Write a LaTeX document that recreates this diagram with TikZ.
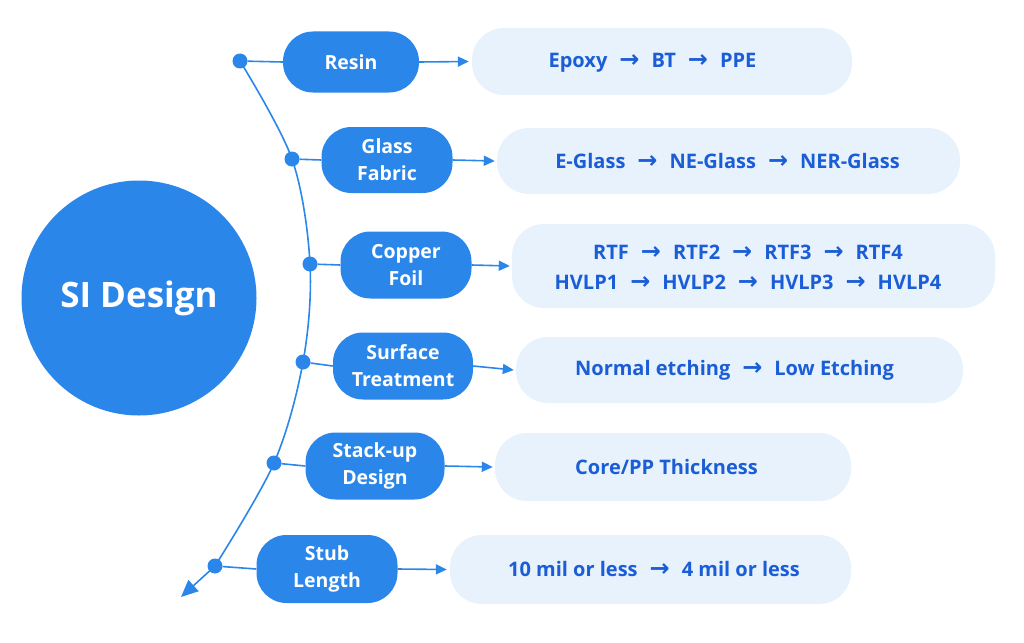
\documentclass[tikz,border=0pt]{standalone}
\usepackage{fontspec}
\setmainfont{Open Sans}
\newfontfamily\arrfont{DejaVu Sans}
\usetikzlibrary{arrows.meta}
\definecolor{mainblue}{HTML}{2B86EA}
\definecolor{lightbox}{HTML}{E8F2FD}
\definecolor{darkblue}{HTML}{1A5DD6}
\newcommand{\ar}{\hspace{12pt}{\arrfont\fontsize{24}{24}\selectfont →}\hspace{12pt}}
\tikzset{
  pill/.style={fill=mainblue, rounded corners=30pt, text=white, font=\bfseries\fontsize{19.5}{27}\selectfont, align=center, inner sep=0pt},
  lbox/.style={fill=lightbox, rounded corners=32pt, inner sep=0pt},
  ltext/.style={text=darkblue, font=\bfseries\fontsize{20}{30}\selectfont, align=center, inner sep=0pt},
  dot/.style={circle, fill=mainblue, minimum size=15pt, inner sep=0pt},
  conn/.style={draw=mainblue, line width=1.6pt},
  arr/.style={conn, -{Stealth[length=11pt,width=10pt,inset=0pt]}},
}
\begin{document}
\begin{tikzpicture}[x=1pt,y=-1pt]
\useasboundingbox (0,0) rectangle (1024,642);
% centre circle
\node[circle, fill=mainblue, minimum size=235pt, inner sep=0pt, text=white, font=\bfseries\fontsize{35}{35}\selectfont] (si) at (139,298) {SI Design};
% dots
\node[dot] (d1) at (240,61) {};
\node[dot] (d2) at (292,159) {};
\node[dot] (d3) at (310,264) {};
\node[dot] (d4) at (303,362) {};
\node[dot] (d5) at (274,463) {};
\node[dot] (d6) at (215,566) {};
\coordinate (tip) at (181,597);
% spine curve
\draw[conn] plot[smooth, tension=0.55] coordinates {(240,61) (292,159) (310,264) (303,362) (274,463) (215,566)};
\draw[conn, -{Stealth[length=17pt,width=15pt,inset=0pt]}] (d6.center) -- (tip);
% pills
\node[pill, minimum width=136pt, minimum height=61pt] (p1) at (351,62) {Resin};
\node[pill, minimum width=131pt, minimum height=66pt] (p2) at (387,160) {Glass\\Fabric};
\node[pill, minimum width=131pt, minimum height=67pt] (p3) at (406,265) {Copper\\Foil};
\node[pill, minimum width=140pt, minimum height=67pt] (p4) at (403,366) {Surface\\Treatment};
\node[pill, minimum width=139pt, minimum height=67pt] (p5) at (375,466) {Stack-up\\Design};
\node[pill, minimum width=141pt, minimum height=68pt] (p6) at (327,569) {Stub\\Length};
% light boxes
\node[lbox, minimum width=380pt, minimum height=67pt] (b1) at (662,61.5) {};
\node[lbox, minimum width=463pt, minimum height=66pt] (b2) at (728.5,161) {};
\node[lbox, minimum width=483pt, minimum height=84pt] (b3) at (753.5,266) {};
\node[lbox, minimum width=447pt, minimum height=66pt] (b4) at (739.5,370) {};
\node[lbox, minimum width=356pt, minimum height=68pt] (b5) at (673,467) {};
\node[lbox, minimum width=401pt, minimum height=69pt] (b6) at (650.5,569.5) {};
% texts
\node[ltext] (t1) at (652.5,63) {Epoxy\ar BT\ar PPE};
\node[ltext] (t2) at (727.5,161) {E-Glass\ar NE-Glass\ar NER-Glass};
\node[ltext] (t3) at (748,267) {RTF\ar RTF2\ar RTF3\ar RTF4\\HVLP1\ar HVLP2\ar HVLP3\ar HVLP4};
\node[ltext] (t4) at (734.5,370) {Normal etching\ar Low Etching};
\node[ltext] (t5) at (666.5,467) {Core/PP Thickness};
\node[ltext] (t6) at (654,569) {10 mil or less\ar 4 mil or less};
% connectors dot -> pill
\draw[conn] (d1) -- (p1.west);
\draw[conn] (d2) -- (p2.west);
\draw[conn] (d3) -- (p3.west);
\draw[conn] (d4) -- (p4.west);
\draw[conn] (d5) -- (p5.west);
\draw[conn] (d6) -- (p6.west);
% arrows pill -> box
\draw[arr] (p1.east) -- ([xshift=-3pt]b1.west);
\draw[arr] (p2.east) -- ([xshift=-2pt]b2.west);
\draw[arr] (p3.east) -- ([xshift=-2pt]b3.west);
\draw[arr] (p4.east) -- ([xshift=-2pt]b4.west);
\draw[arr] (p5.east) -- ([xshift=-2pt]b5.west);
\draw[arr] (p6.east) -- ([xshift=-3pt]b6.west);
\end{tikzpicture}
\end{document}
